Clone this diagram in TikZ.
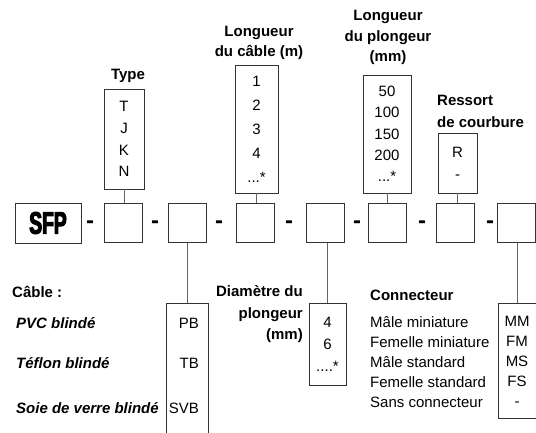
\documentclass[tikz,border=0pt]{standalone}
\usepackage{fontspec}
\setmainfont{Liberation Sans}
\newfontfamily\sfpfont[FakeStretch=0.62,FakeBold=3.5]{Liberation Sans Bold}

\begin{document}
\begin{tikzpicture}[x=1pt,y=-1pt,node distance=63pt,
  code box/.style={draw=black!80,line width=0.7pt,minimum width=38pt,minimum height=39pt,inner sep=0pt},
  opt box/.style={draw=black!80,line width=0.7pt,inner sep=0pt,align=center},
  title/.style={font=\fontsize{15}{20}\selectfont\bfseries,inner sep=0pt},
  item/.style={font=\fontsize{15}{20}\selectfont,inner sep=0pt},
  sep/.style={font=\fontsize{24}{24}\selectfont\bfseries,inner sep=0pt},
  link/.style={draw=black!60,line width=0.7pt}]

  \clip (0,0) rectangle (536,432);

  % reference row
  \node[code box,minimum width=66pt,minimum height=40pt] (sfp) at (48,223) {\fontsize{31}{31}\sfpfont SFP};
  \node[code box] (b1) at (123.5,223) {};
  \node[code box] (b2) [right of=b1, node distance=64pt] {};
  \node[code box] (b3) [right of=b2, node distance=68pt] {};
  \node[code box] (b4) [right of=b3, node distance=70pt] {};
  \node[code box] (b5) [right of=b4, node distance=61.5pt] {};
  \node[code box] (b6) [right of=b5, node distance=68pt] {};
  \node[code box] (b7) [right of=b6, node distance=61pt] {};

  \node[sep] (d1) at (90,225) {-};
  \node[sep] (d2) at (155,225) {-};
  \node[sep] (d3) at (219,225) {-};
  \node[sep] (d4) at (289,225) {-};
  \node[sep] (d5) at (357,225) {-};
  \node[sep] (d6) at (422,225) {-};
  \node[sep] (d7) at (490,225) {-};

  % options above
  \node[opt box,minimum width=40pt,minimum height=100pt,font=\fontsize{15}{21.7}\selectfont]
    (type) at (124,139) {T\\J\\K\\N};
  \node[title] (typelbl) at (128,76) {Type};

  \node[opt box,minimum width=43pt,minimum height=128pt,font=\fontsize{15}{24}\selectfont]
    (longcable) at (256.5,129) {1\\2\\3\\4\\...*};
  \node[title,align=center] (longcablelbl) at (259,43) {Longueur\\du câble (m)};

  \node[opt box,minimum width=48pt,minimum height=118pt,font=\fontsize{15}{21.3}\selectfont]
    (longplong) at (387,134) {50\\100\\150\\200\\...*};
  \node[title,align=center,font=\fontsize{15}{20.5}\selectfont\bfseries] (longplonglbl) at (388,37.5) {Longueur\\du plongeur\\(mm)};

  \node[opt box,minimum width=39pt,minimum height=60pt,font=\fontsize{15}{22}\selectfont]
    (ressort) at (457.5,163) {R\\-};
  \node[title,align=left,font=\fontsize{15}{22}\selectfont\bfseries,anchor=west] (ressortlbl) at (437,111) {Ressort\\de courbure};

  % options below
  \node[opt box,minimum width=42pt,minimum height=140pt] (cable) at (187,373) {};
  \node[title,anchor=west] (cablelbl) at (12,292) {Câble :};
  \node[title,anchor=west,font=\fontsize{15}{20}\selectfont\bfseries\itshape] (pvc) at (16,323) {PVC blindé};
  \node[title,anchor=west,font=\fontsize{15}{20}\selectfont\bfseries\itshape] (teflon) at (16,363) {Téflon blindé};
  \node[title,anchor=west,font=\fontsize{15}{20}\selectfont\bfseries\itshape] (soie) at (16,408) {Soie de verre blindé};
  \node[item,anchor=east] (pb) at (199,323) {PB};
  \node[item,anchor=east] (tb) at (199,363) {TB};
  \node[item,anchor=east] (svb) at (199,408) {SVB};

  \node[opt box,minimum width=37pt,minimum height=82pt,font=\fontsize{15}{22}\selectfont]
    (diam) at (327.5,344) {4\\6\\....*};
  \node[title,align=right,anchor=east,font=\fontsize{15}{21.5}\selectfont\bfseries] (diamlbl) at (303,314.5) {Diamètre du\\plongeur\\(mm)};

  \node[opt box,minimum width=38pt,minimum height=115pt,font=\fontsize{15}{20}\selectfont]
    (conn) at (517,361) {MM\\FM\\MS\\FS\\-};
  \node[title,anchor=west] (connlbl) at (370,295) {Connecteur};
  \node[item,align=left,anchor=west] (connlist) at (370,362.5) {Mâle miniature\\Femelle miniature\\Mâle standard\\Femelle standard\\Sans connecteur};

  % links
  \path[link]
    (type.south) edge (type.south |- b1.north)
    (longcable.south) edge (longcable.south |- b3.north)
    (longplong.south) edge (longplong.south |- b5.north)
    (ressort.south) edge (ressort.south |- b6.north)
    (cable.north) edge (cable.north |- b2.south)
    (diam.north) edge (diam.north |- b4.south)
    (conn.north) edge (conn.north |- b7.south);
\end{tikzpicture}
\end{document}
